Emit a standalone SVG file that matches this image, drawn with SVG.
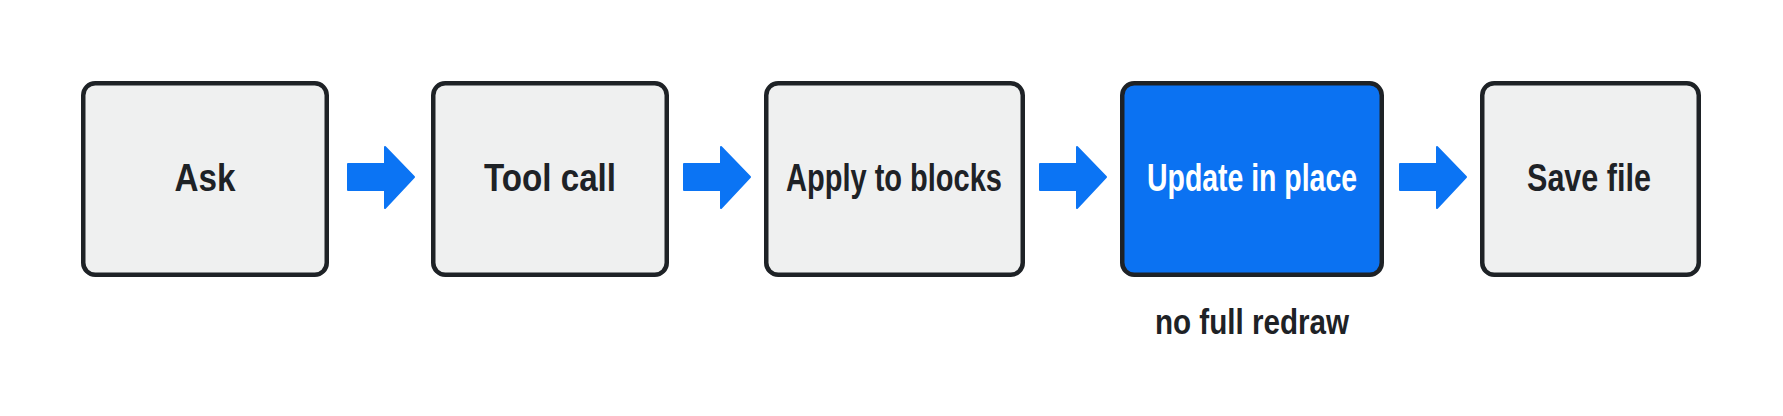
<svg xmlns="http://www.w3.org/2000/svg" width="1783" height="416" viewBox="0 0 1783 416">
<style>
.box{fill:#eff0f0;stroke:#1e2226;stroke-width:4.5}
.hl{fill:#0b72f2;stroke:#1e2226;stroke-width:4.5}
.lbl{font-family:"Liberation Sans",Arial,sans-serif;font-weight:bold;font-size:38px;fill:#1e2226;text-anchor:middle}
.lblw{fill:#ffffff}
.cap{font-family:"Liberation Sans",Arial,sans-serif;font-weight:bold;font-size:35px;fill:#1e2226;text-anchor:middle}
.arr{fill:#0b74f4;stroke:#0b74f4;stroke-width:2;stroke-linejoin:round}
</style>
<defs>
<path id="arrow" d="M0,-13 L37,-13 L37,-30 L66,0 L37,31 L37,13 L0,13 Z"/>
</defs>
<rect width="1783" height="416" fill="#ffffff"/>
<g id="connectors">
<use href="#arrow" class="arr" x="348" y="177"/>
<use href="#arrow" class="arr" x="684" y="177"/>
<use href="#arrow" class="arr" x="1040" y="177"/>
<use href="#arrow" class="arr" x="1400" y="177"/>
</g>
<g id="node-ask">
<rect class="box" x="83.25" y="83.25" width="243.5" height="191.5" rx="12"/>
<text class="lbl" x="205" y="191" textLength="61" lengthAdjust="spacingAndGlyphs">Ask</text>
</g>
<g id="node-toolcall">
<rect class="box" x="433.25" y="83.25" width="233.5" height="191.5" rx="12"/>
<text class="lbl" x="550" y="191" textLength="132" lengthAdjust="spacingAndGlyphs">Tool call</text>
</g>
<g id="node-apply">
<rect class="box" x="766.25" y="83.25" width="256.5" height="191.5" rx="12"/>
<text class="lbl" x="894" y="191" textLength="216" lengthAdjust="spacingAndGlyphs">Apply to blocks</text>
</g>
<g id="node-update">
<rect class="hl" x="1122.25" y="83.25" width="259.5" height="191.5" rx="12"/>
<text class="lbl lblw" x="1252" y="191" textLength="210" lengthAdjust="spacingAndGlyphs">Update in place</text>
<text class="cap" x="1252" y="334" textLength="194" lengthAdjust="spacingAndGlyphs">no full redraw</text>
</g>
<g id="node-save">
<rect class="box" x="1482.25" y="83.25" width="216.5" height="191.5" rx="12"/>
<text class="lbl" x="1589" y="191" textLength="124" lengthAdjust="spacingAndGlyphs">Save file</text>
</g>
</svg>
